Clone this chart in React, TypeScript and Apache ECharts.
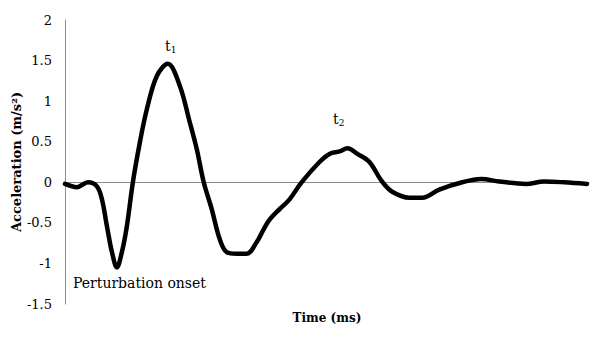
import React, { useEffect, useRef } from "react";
import * as echarts from "echarts";

const timeMs = [0, 12, 23, 32, 37, 42, 47, 52, 57, 62, 68, 75, 82, 92, 103, 115, 125, 132, 139, 147, 155, 162, 172, 182, 192, 199, 205, 215, 225, 237, 255, 265, 275, 283, 293, 305, 317, 327, 345, 358, 375, 398, 417, 435, 462, 480, 500, 523];
const acceleration = [-0.02, -0.06, 0, -0.05, -0.21, -0.54, -0.86, -1.05, -0.86, -0.54, 0, 0.49, 0.9, 1.31, 1.46, 1.19, 0.74, 0.41, 0, -0.33, -0.7, -0.86, -0.88, -0.88, -0.74, -0.58, -0.46, -0.33, -0.21, 0, 0.25, 0.35, 0.38, 0.42, 0.35, 0.25, 0.02, -0.11, -0.19, -0.19, -0.09, 0, 0.04, 0.01, -0.02, 0.01, 0, -0.02];
const yTicks = { min: -1.5, max: 2, step: 0.5 };
const xTitle = "Time (ms)";
const yTitle = "Acceleration (m/s²)";

const FONT = "DejaVu Serif";

export default function App() {
  const ref = useRef<HTMLDivElement>(null);
  useEffect(() => {
    if (!ref.current) return;
    const chart = echarts.init(ref.current, null, { renderer: "svg" });
    chart.setOption({
      animation: false,
      backgroundColor: "#ffffff",
      grid: { left: 65, right: 5, top: 20, bottom: 38, containLabel: false, outerBoundsMode: "none" },
      xAxis: {
        type: "value",
        min: 0,
        max: 525,
        name: xTitle,
        nameLocation: "middle",
        nameGap: 8,
        nameMoveOverlap: false,
        nameTextStyle: { fontFamily: FONT, fontWeight: "bold", fontSize: 12, color: "#000" },
        axisLine: { onZero: true, lineStyle: { color: "#8c8c8c", width: 1 } },
        axisTick: { show: false },
        axisLabel: { show: false },
        splitLine: { show: false },
      },
      yAxis: {
        type: "value",
        min: yTicks.min,
        max: yTicks.max,
        interval: yTicks.step,
        name: yTitle,
        nameLocation: "middle",
        nameGap: 42,
        nameMoveOverlap: false,
        nameTextStyle: { fontFamily: FONT, fontWeight: "bold", fontSize: 13, color: "#000" },
        axisLine: { show: true, lineStyle: { color: "#8c8c8c", width: 1 } },
        axisTick: { show: false },
        axisLabel: { fontFamily: FONT, fontSize: 13, color: "#000", margin: 13 },
        splitLine: { show: false },
      },
      series: [
        {
          type: "line",
          data: timeMs.map((t, i) => [t, acceleration[i]]),
          smooth: 0.35,
          showSymbol: false,
          lineStyle: { color: "#000", width: 4.5, cap: "round", join: "round" },
        },
      ],
      graphic: [
        {
          type: "text",
          left: 165,
          top: 39,
          style: {
            text: "{a|t}{s|1}",
            rich: {
              a: { fontFamily: FONT, fontSize: 14, fill: "#000" },
              s: { fontFamily: FONT, fontSize: 9, fill: "#000", padding: [8, 0, 0, 0] },
            },
          },
        },
        {
          type: "text",
          left: 333,
          top: 112,
          style: {
            text: "{a|t}{s|2}",
            rich: {
              a: { fontFamily: FONT, fontSize: 14, fill: "#000" },
              s: { fontFamily: FONT, fontSize: 9, fill: "#000", padding: [8, 0, 0, 0] },
            },
          },
        },
        {
          type: "text",
          left: 73,
          top: 276,
          style: { text: "Perturbation onset", fontFamily: FONT, fontSize: 14, fill: "#000" },
        },
      ],
    });
    return () => chart.dispose();
  }, []);
  return <div ref={ref} style={{ position: "fixed", left: 0, top: 0, width: 594, height: 342 }} />;
}
